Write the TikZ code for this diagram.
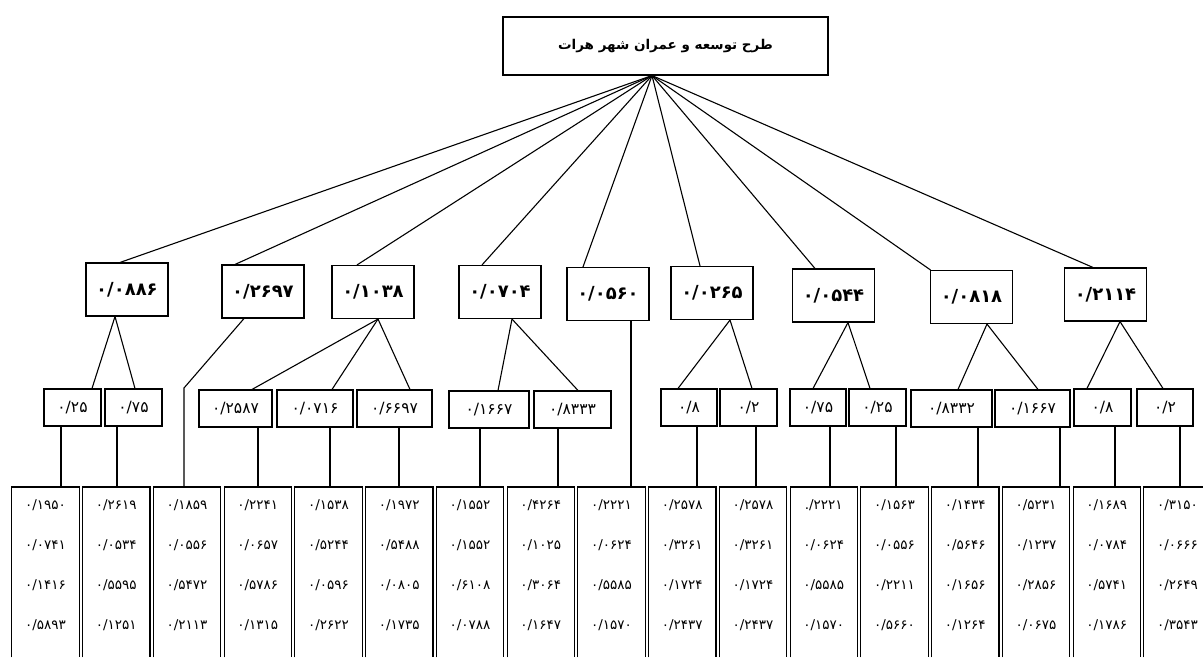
\documentclass[tikz,border=0pt]{standalone}
\usepackage{fontspec}
\newfontfamily\fafont[Script=Arabic]{DejaVu Sans}
\TeXXeTstate=1
\begin{document}
\begin{tikzpicture}[x=1pt,y=-1pt,line join=miter]

    % Styles
    \tikzstyle{box}=[draw, line width=1.1pt, inner sep=0pt]
    \tikzstyle{goal}=[box, minimum width=325pt, minimum height=58pt, font=\fafont\bfseries\fontsize{13.5}{16}\selectfont]
    \tikzstyle{crit}=[box, minimum width=82pt, minimum height=53pt, font=\fafont\bfseries\fontsize{18}{20}\selectfont]
    \tikzstyle{sub}=[box, minimum height=37pt, font=\fafont\fontsize{15.5}{17}\selectfont]
    \tikzstyle{col}=[inner sep=0pt, minimum width=67pt, minimum height=170pt, anchor=north]
    \tikzstyle{vals}=[align=center, inner sep=0pt, font=\fafont\fontsize{13.5}{40}\selectfont]
    \tikzstyle{link}=[line width=1.1pt]

    \useasboundingbox (0,0) rectangle (1203,657);

    % goal
    \node[goal] (goal) at (665.5,46) {\beginR طرح توسعه و عمران شهر هرات\endR};
    \coordinate (apex) at ([xshift=-13.5pt]goal.south);

    % criteria
    \node[crit] (k1) at (127,289.5) {۰/۰۸۸۶};
    \node[crit] (k2) at (263,291.5) {۰/۲۶۹۷};
    \node[crit] (k3) at (373,292) {۰/۱۰۳۸};
    \node[crit] (k4) at (500,292) {۰/۰۷۰۴};
    \node[crit] (k5) at (608,294) {۰/۰۵۶۰};
    \node[crit] (k6) at (712,293) {۰/۰۲۶۵};
    \node[crit] (k7) at (833.5,295.5) {۰/۰۵۴۴};
    \node[crit] (k8) at (971.5,297) {۰/۰۸۱۸};
    \node[crit] (k9) at (1105.5,294.5) {۰/۲۱۱۴};

    \foreach \k/\dx in {1/-7,2/-28,3/-16,4/-18,5/-25,6/-12,7/-18.5,8/-41,9/-12.5}
        \draw[link] (apex) -- ([xshift=\dx pt]k\k.north);

    % sub criteria
    \node[sub, minimum width=57pt] (c1a) at (72.5,407.5) {۰/۲۵};
    \node[sub, minimum width=57pt] (c1b) at (133.5,407.5) {۰/۷۵};
    \node[sub, minimum width=73pt] (c3a) at (235.5,408.5) {۰/۲۵۸۷};
    \node[sub, minimum width=76pt] (c3b) at (315,408.5) {۰/۰۷۱۶};
    \node[sub, minimum width=75pt] (c3c) at (394.5,408.5) {۰/۶۶۹۷};
    \node[sub, minimum width=80pt] (c4a) at (489,409.5) {۰/۱۶۶۷};
    \node[sub, minimum width=77pt] (c4b) at (572.5,409.5) {۰/۸۳۳۳};
    \node[sub, minimum width=56pt] (c6a) at (689,407.5) {۰/۸};
    \node[sub, minimum width=57pt] (c6b) at (748.5,407.5) {۰/۲};
    \node[sub, minimum width=56pt] (c7a) at (818,407.5) {۰/۷۵};
    \node[sub, minimum width=57pt] (c7b) at (877.5,407.5) {۰/۲۵};
    \node[sub, minimum width=81pt] (c8a) at (951.5,408.5) {۰/۸۳۳۲};
    \node[sub, minimum width=75pt] (c8b) at (1032.5,408.5) {۰/۱۶۶۷};
    \node[sub, minimum width=57pt] (c9a) at (1102.5,407.5) {۰/۸};
    \node[sub, minimum width=56pt] (c9b) at (1165,407.5) {۰/۲};

    \foreach \k/\sx/\c/\ex in {1/-12/c1a/19.5, 1/-12/c1b/1.5,
        3/5/c3a/16.5, 3/5/c3b/17, 3/5/c3c/15.5,
        4/12/c4a/9, 4/12/c4b/5.5,
        6/18/c6a/-11, 6/18/c6b/3.5,
        7/14.5/c7a/-5, 7/14.5/c7b/-7.5,
        8/15.5/c8a/6.5, 8/15.5/c8b/5.5,
        9/14.5/c9a/-15.5, 9/14.5/c9b/-2}
        \draw[link] ([xshift=\sx pt]k\k.south) -- ([xshift=\ex pt]\c.north);

    % alternatives
    \foreach \i/\vals in {
        1/{۰/۱۹۵۰\\۰/۰۷۴۱\\۰/۱۴۱۶\\۰/۵۸۹۳},
        2/{۰/۲۶۱۹\\۰/۰۵۳۴\\۰/۵۵۹۵\\۰/۱۲۵۱},
        3/{۰/۱۸۵۹\\۰/۰۵۵۶\\۰/۵۴۷۲\\۰/۲۱۱۳},
        4/{۰/۲۲۴۱\\۰/۰۶۵۷\\۰/۵۷۸۶\\۰/۱۳۱۵},
        5/{۰/۱۵۳۸\\۰/۵۲۴۴\\۰/۰۵۹۶\\۰/۲۶۲۲},
        6/{۰/۱۹۷۲\\۰/۵۴۸۸\\۰/۰۸۰۵\\۰/۱۷۳۵},
        7/{۰/۱۵۵۲\\۰/۱۵۵۲\\۰/۶۱۰۸\\۰/۰۷۸۸},
        8/{۰/۴۲۶۴\\۰/۱۰۲۵\\۰/۳۰۶۴\\۰/۱۶۴۷},
        9/{۰/۲۲۲۱\\۰/۰۶۲۴\\۰/۵۵۸۵\\۰/۱۵۷۰},
        10/{۰/۲۵۷۸\\۰/۳۲۶۱\\۰/۱۷۲۴\\۰/۲۴۳۷},
        11/{۰/۲۵۷۸\\۰/۳۲۶۱\\۰/۱۷۲۴\\۰/۲۴۳۷},
        12/{.\kern0pt/\kern0pt۲۲۲۱\\۰/۰۶۲۴\\۰/۵۵۸۵\\۰/۱۵۷۰},
        13/{۰/۱۵۶۳\\۰/۰۵۵۶\\۰/۲۲۱۱\\۰/۵۶۶۰},
        14/{۰/۱۴۳۴\\۰/۵۶۴۶\\۰/۱۶۵۶\\۰/۱۲۶۴},
        15/{۰/۵۲۳۱\\۰/۱۲۳۷\\۰/۲۸۵۶\\۰/۰۶۷۵},
        16/{۰/۱۶۸۹\\۰/۰۷۸۴\\۰/۵۷۴۱\\۰/۱۷۸۶},
        17/{۰/۳۱۵۰\\۰/۰۶۶۶\\۰/۲۶۴۹\\۰/۳۵۴۳}} {
        \pgfmathsetmacro\cx{45.5+70.75*(\i-1)}
        \node[col] (b\i) at (\cx,487) {};
        \draw[box] (b\i.south west) |- (b\i.north east) -- (b\i.south east);
        \node[vals] at ([yshift=-78pt]b\i.north) {\vals};
    }

    % links down to the alternatives
    \coordinate (bend2) at (184,388);
    \draw[link] ([xshift=-19pt]k2.south) -- (bend2) -- (bend2 |- b3.north);
    \foreach \i/\tx/\p in {1/61/c1a, 2/117/c1b, 4/258/c3a, 5/330/c3b, 6/399/c3c,
        7/480/c4a, 8/558/c4b, 9/631/k5, 10/697/c6a, 11/756/c6b, 12/830/c7a,
        13/896/c7b, 14/978/c8a, 15/1060/c8b, 16/1115/c9a, 17/1180/c9b} {
        \coordinate (t\i) at (\tx,487);
        \draw[link] (t\i) -- (t\i |- \p.south);
    }

\end{tikzpicture}
\end{document}
